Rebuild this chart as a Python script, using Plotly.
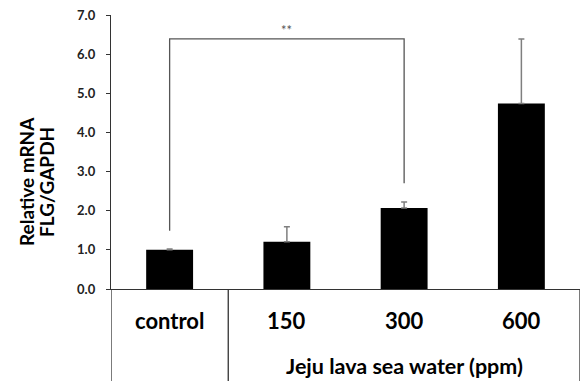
import plotly.graph_objects as go

categories = ["control", "150", "300", "600"]
values = [1.0, 1.21, 2.07, 4.74]
errors = [0.02, 0.38, 0.15, 1.65]
y_ticks = [0, 1, 2, 3, 4, 5, 6, 7]
group_label = "Jeju lava sea water (ppm)"
y_title_lines = ["Relative mRNA", "FLG/GAPDH"]
# significance bracket: from control to 300
bracket_x = [0, 0, 2, 2]
bracket_y = [1.49, 6.39, 6.39, 2.70]
sig_text = "**"

FONT = "Lato, Open Sans, sans-serif"
xi = list(range(len(categories)))

fig = go.Figure()
fig.add_trace(go.Bar(
    x=xi, y=values, width=0.4,
    marker=dict(color="black", line=dict(width=0)),
    error_y=dict(type="data", array=errors, arrayminus=[0]*4, symmetric=False,
                 color="#7f7f7f", thickness=1.5, width=3),
    showlegend=False,
))

# bracket
fig.add_trace(go.Scatter(
    x=bracket_x, y=bracket_y, mode="lines",
    line=dict(color="#555555", width=1.3), showlegend=False, hoverinfo="skip",
))

annotations = []
for i, c in enumerate(categories):
    annotations.append(dict(x=i, y=-31/274, xref="x", yref="paper", text=f"<b>{c}</b>",
                            showarrow=False, yanchor="middle", xanchor="center",
                            font=dict(family=FONT, size=22, color="black")))
annotations.append(dict(x=2, y=-77/274, xref="x", yref="paper", text=f"<b>{group_label}</b>",
                        showarrow=False, yanchor="middle", xanchor="center",
                        font=dict(family=FONT, size=21.5, color="black")))
annotations.append(dict(x=(bracket_x[1] + bracket_x[2]) / 2, y=bracket_y[1], xref="x", yref="y",
                        text=sig_text, showarrow=False, yanchor="bottom", yshift=-1,
                        font=dict(family=FONT, size=13, color="#555555")))
for k, (line, px) in enumerate(zip(y_title_lines, [26, 46])):
    annotations.append(dict(x=(px - 111) / 469, y=(289 - 182) / 274, xref="paper", yref="paper",
                            text=f"<b>{line}</b>", showarrow=False, textangle=-90,
                            xanchor="center", yanchor="middle",
                            font=dict(family=FONT, size=19, color="black")))

shapes = []
for xv in [-0.5, 0.5, 3.5]:
    shapes.append(dict(type="line", xref="x", yref="paper", x0=xv, x1=xv, y0=0, y1=-0.4,
                       line=dict(color="#333333", width=1.3)))

fig.update_layout(
    width=581, height=381,
    margin=dict(l=111, r=1, t=15, b=92),
    plot_bgcolor="white", paper_bgcolor="white",
    annotations=annotations, shapes=shapes,
    xaxis=dict(range=[-0.5, 3.5], showticklabels=False, ticks="", showgrid=False,
               zeroline=False, showline=True, linecolor="#333333", linewidth=1.3, fixedrange=True),
    yaxis=dict(range=[0, 7], tickvals=y_ticks, ticktext=[f"<b>{v:.1f}</b>" for v in y_ticks],
               ticks="outside", ticklen=4, tickcolor="#333333", showgrid=False, zeroline=False,
               showline=True, linecolor="#333333", linewidth=1.3,
               tickfont=dict(family=FONT, size=13, color="#222222"), ticklabelstandoff=8),
    bargap=0.6,
)

fig.write_html("out.html", config={"displayModeBar": False},
               post_script="document.body.style.margin='0';document.body.style.overflow='hidden';")
